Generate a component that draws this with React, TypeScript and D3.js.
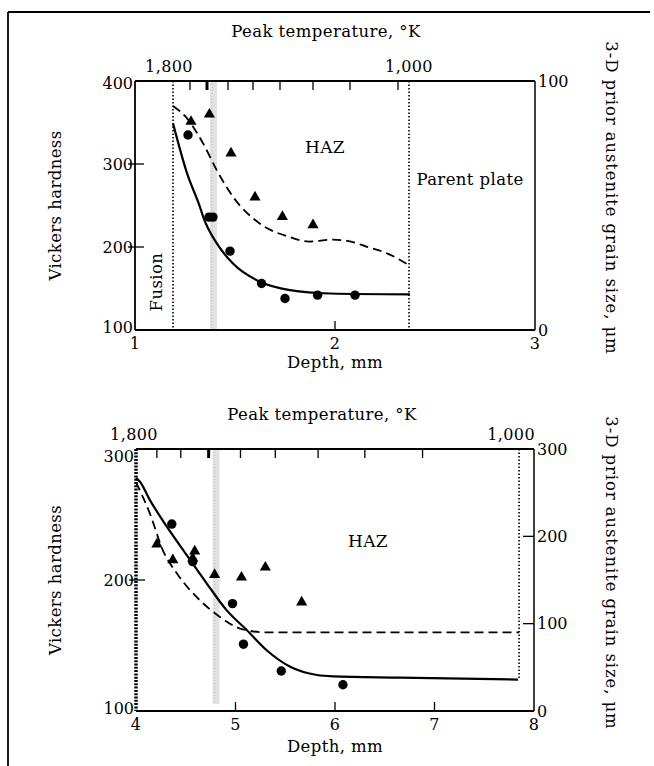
import React from 'react';
import * as d3 from 'd3';

const width = 654;
const height = 766;
const font = '"DejaVu Serif", serif';

// ---- top panel (depth 1-3 mm) ----
const topSolid = [[1.19, 349], [1.26, 289], [1.325, 248], [1.34, 237], [1.41, 204], [1.49, 180], [1.625, 158], [1.775, 148], [1.975, 144], [2.375, 143]];
const topDashed = [[1.19, 90], [1.26, 85], [1.34, 75], [1.41, 64], [1.49, 53.5], [1.625, 42.7], [1.775, 37.3], [1.87, 35.5], [1.99, 36.3], [2.08, 35.5], [2.16, 33.4], [2.26, 30.8], [2.37, 26]];
const topCircles = [[1.265, 335], [1.37, 236], [1.39, 236], [1.475, 195], [1.633, 156], [1.75, 138], [1.913, 142], [2.1, 142]];
const topTriangles = [[1.28, 83.7], [1.372, 86.6], [1.48, 71], [1.6, 53.3], [1.737, 45.5], [1.89, 42.2]];
const topTempTicks = [1.275, 1.36, 1.465, 1.59, 1.725, 1.89, 2.075, 2.315];
const topDepthLabels = [1, 2, 3];
const topHardLabels = [100, 200, 300, 400];
const topGrainLabels = [0, 100];

// ---- bottom panel (depth 4-8 mm) ----
const botSolid = [[4.0, 278], [4.04, 275], [4.14, 261], [4.31, 240.7], [4.51, 219], [4.71, 197.5], [4.91, 177], [5.11, 162], [5.31, 146.6], [5.55, 133.8], [5.82, 127.5], [5.98, 126.5], [6.65, 125.5], [7.84, 124]];
const botDashed = [[4.0, 262], [4.14, 226], [4.27, 184], [4.41, 157.7], [4.64, 127], [4.84, 108], [5.04, 94.7], [5.31, 90], [7.85, 90]];
const botCircles = [[4.36, 242.7], [4.57, 214], [4.97, 182], [5.08, 151], [5.46, 130.5], [6.08, 120]];
const botTriangles = [[4.21, 191], [4.37, 173], [4.57, 175], [4.59, 183], [4.79, 156], [5.06, 153], [5.3, 164.5], [5.665, 124.5]];
const botTempTicks = [4.21, 4.45, 4.73, 5.05, 5.4, 5.83, 6.3, 6.88];
const botDepthLabels = [4, 5, 6, 7, 8];
const botHardLabels = [100, 200, 300];
const botGrainLabels = [0, 100, 200, 300];

const Panel = (p) => {
    const x = d3.scaleLinear().domain(p.xDomain).range(p.xRange);
    const yL = d3.scaleLinear().domain(p.hDomain).range(p.yRange);
    const yR = d3.scaleLinear().domain(p.gDomain).range(p.yRange);
    const [x0, x1] = p.xRange;
    const [yb, yt] = p.yRange;
    const solid = d3.line().x(d => x(d[0])).y(d => yL(d[1])).curve(d3.curveMonotoneX);
    const dashed = d3.line().x(d => x(d[0])).y(d => yR(d[1])).curve(d3.curveMonotoneX);
    const tri = d3.symbol().type(d3.symbolTriangle).size(54);
    const midX = (x0 + x1) / 2;
    const midY = (yb + yt) / 2;
    const fs = 16;
    // keep corner labels clear of each other
    const leftY = v => Math.min(Math.max(yL(v), yt + p.topLabelShift), yb - 3);
    return (
        <g fontFamily={font} fill="#000" letterSpacing={0.4}>
            {/* gray band */}
            <rect x={x(p.band[0])} y={yt} width={x(p.band[1]) - x(p.band[0])} height={p.bandBottom - yt} fill="#e2e2e2" />
            <line x1={x(p.band[0]) + 2} x2={x(p.band[0]) + 2} y1={yt} y2={p.bandBottom} stroke="#c4c4c4" strokeWidth={1.2} strokeDasharray="1 2" />
            {/* frame */}
            <line x1={x0} x2={x1} y1={yt} y2={yt} stroke="#000" strokeWidth={2} />
            <line x1={x0} x2={x1} y1={yb} y2={yb} stroke="#000" strokeWidth={2} />
            <line x1={x1} x2={x1} y1={yt} y2={yb} stroke="#000" strokeWidth={1.5} />
            {p.dottedLeft
                ? <line x1={x0} x2={x0} y1={yt} y2={yb} stroke="#000" strokeWidth={3.5} strokeDasharray="2 1.3" />
                : <line x1={x0} x2={x0} y1={yt} y2={yb} stroke="#000" strokeWidth={1.8} />}
            {/* fusion / parent boundaries */}
            {p.fusion != null && <line x1={x(p.fusion)} x2={x(p.fusion)} y1={yt} y2={yb} stroke="#000" strokeWidth={1.6} strokeDasharray="1.5 2" />}
            <line x1={x(p.parent)} x2={x(p.parent)} y1={yt} y2={p.parentBottom} stroke="#000" strokeWidth={1.6} strokeDasharray="1.5 2" />
            {/* top temperature ticks */}
            {p.tempTicks.map((t, i) => (
                <line key={t} x1={x(t)} x2={x(t)} y1={yt} y2={yt + 9} stroke="#000" strokeWidth={i === p.thick ? 3 : 1.3} />
            ))}
            <text x={x(p.tempLeft)} y={p.tempLabelY} fontSize={fs} textAnchor="middle">1,800</text>
            <text x={x(p.tempRight)} y={p.tempLabelY} fontSize={fs} textAnchor="middle">1,000</text>
            <text x={p.titleX} y={p.titleY} fontSize={16.5} textAnchor="middle">Peak temperature, °K</text>
            {/* left axis */}
            {p.hLabels.map(v => (
                <g key={v}>
                    {v !== p.hDomain[0] && v !== p.hDomain[1] && <line x1={x0 - 7} x2={x0 + 9} y1={yL(v)} y2={yL(v)} stroke="#000" strokeWidth={1.3} />}
                    <text x={x0 - 2} y={leftY(v)} dy="0.35em" fontSize={fs} textAnchor="end" letterSpacing={0}>{v}</text>
                </g>
            ))}
            {/* right axis */}
            {p.gLabels.map(v => (
                <g key={v}>
                    {v !== p.gDomain[0] && v !== p.gDomain[1] && <line x1={x1 - 11} x2={x1} y1={yR(v)} y2={yR(v)} stroke="#000" strokeWidth={1.3} />}
                    <text x={x1 + 3} y={yR(v)} dy="0.35em" fontSize={fs} textAnchor="start" letterSpacing={0}>{v}</text>
                </g>
            ))}
            {/* bottom axis */}
            {p.xLabels.map(v => (
                <g key={v}>
                    {v !== p.xDomain[0] && v !== p.xDomain[1] && <line x1={x(v)} x2={x(v)} y1={yb} y2={yb - 9} stroke="#000" strokeWidth={1.3} />}
                    <text x={x(v)} y={yb + 19} fontSize={fs} textAnchor="middle">{v}</text>
                </g>
            ))}
            <text x={midX} y={p.depthY} fontSize={16.5} textAnchor="middle">Depth, mm</text>
            <text transform={`translate(55,${midY}) rotate(-90)`} fontSize={16.5} textAnchor="middle" dy="0.35em">Vickers hardness</text>
            <text transform={`translate(612,${p.rightLabelY}) rotate(90)`} fontSize={16.5} textAnchor="middle" dy="0.35em" letterSpacing={0.9}>3-D prior austenite grain size, μm</text>
            {/* curves */}
            <path d={solid(p.solid)} fill="none" stroke="#000" strokeWidth={2.2} />
            <path d={dashed(p.dashed)} fill="none" stroke="#000" strokeWidth={1.8} strokeDasharray="9 5" />
            {p.circles.map((d, i) => (
                <circle key={i} cx={x(d[0])} cy={yL(d[1])} r={4.7} fill="#000" />
            ))}
            {p.triangles.map((d, i) => (
                <path key={i} d={tri()} transform={`translate(${x(d[0])},${yR(d[1])})`} fill="#000" />
            ))}
            {/* region labels */}
            <text x={p.hazX} y={p.hazY} fontSize={17} textAnchor="middle">HAZ</text>
            {p.children}
        </g>
    );
};

export default function App() {
    return (
        <svg width={width} height={height} style={{ position: 'absolute', left: 0, top: 0, background: '#fff' }}>
            <line x1={8} x2={650} y1={12} y2={12} stroke="#000" strokeWidth={1.8} />
            <line x1={8} x2={8} y1={12} y2={766} stroke="#000" strokeWidth={1.8} />
            <Panel
                xDomain={[1, 3]} xRange={[135, 535]}
                hDomain={[100, 400]} gDomain={[0, 100]} yRange={[330, 81]}
                solid={topSolid} dashed={topDashed} circles={topCircles} triangles={topTriangles}
                tempTicks={topTempTicks} thick={1} tempLeft={1.17} tempRight={2.37} tempLabelY={72}
                titleX={326} titleY={37}
                hLabels={topHardLabels} gLabels={topGrainLabels} xLabels={topDepthLabels}
                fusion={1.19} parent={2.37} parentBottom={330}
                band={[1.375, 1.41]} bandBottom={330}
                depthY={368} rightLabelY={198} topLabelShift={2}
                hazX={325} hazY={153}
            >
                <text transform="translate(156,282) rotate(-90)" fontSize={16.5} textAnchor="middle" dy="0.35em">Fusion</text>
                <text x={470} y={185} fontSize={16.5} textAnchor="middle">Parent plate</text>
            </Panel>
            <Panel
                xDomain={[4, 8]} xRange={[136, 534]}
                hDomain={[100, 300]} gDomain={[0, 300]} yRange={[711, 449]}
                solid={botSolid} dashed={botDashed} circles={botCircles} triangles={botTriangles}
                tempTicks={botTempTicks} thick={2} tempLeft={3.98} tempRight={7.77} tempLabelY={440}
                titleX={322} titleY={420}
                hLabels={botHardLabels} gLabels={botGrainLabels} xLabels={botDepthLabels}
                dottedLeft={true} parent={7.85} parentBottom={680}
                band={[4.77, 4.84]} bandBottom={704}
                depthY={752} rightLabelY={573} topLabelShift={7}
                hazX={368} hazY={547}
            />
        </svg>
    );
}
